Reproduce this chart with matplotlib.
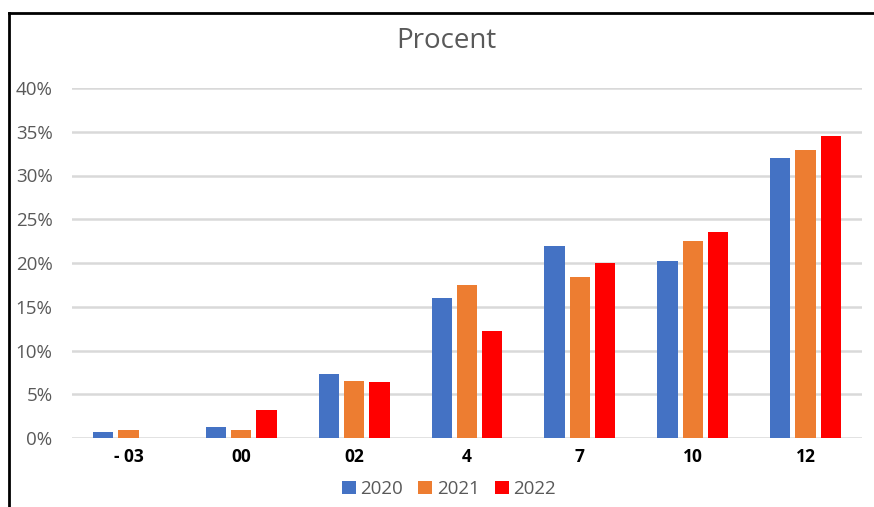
import matplotlib
matplotlib.use("Agg")
import matplotlib.pyplot as plt
from matplotlib.lines import Line2D
from matplotlib.ticker import PercentFormatter
import numpy as np

plt.rcParams['font.family'] = ['Open Sans', 'DejaVu Sans']

categories = ['- 03', '00', '02', '4', '7', '10', '12']
series_names = ['2020', '2021', '2022']
v2020 = [0.7, 1.3, 7.3, 16.0, 22.0, 20.2, 32.0]
v2021 = [0.9, 0.9, 6.5, 17.5, 18.4, 22.5, 32.9]
v2022 = [0.0, 3.2, 6.4, 12.2, 20.0, 23.6, 34.5]
colors = ['#4472C4', '#ED7D31', '#FF0000']
yticks = [0, 5, 10, 15, 20, 25, 30, 35, 40]

fig = plt.figure(figsize=(8.74, 5.07), dpi=100)
ax = fig.add_axes([72/874, 1-438/507, (862-72)/874, (438-88)/507])

x = np.arange(len(categories))
step = 0.224
width = 0.18
for i, (vals, name, c) in enumerate(zip([v2020, v2021, v2022], series_names, colors)):
    ax.bar(x + (i-1)*step, vals, width=width, color=c, label=name, zorder=3)

ax.set_xlim(-0.5, len(categories)-0.5)
ax.set_ylim(0, 40)
ax.set_yticks(yticks)
ax.yaxis.set_major_formatter(PercentFormatter(decimals=0))
ax.set_xticks(x)
ax.set_xticklabels(categories, fontweight='bold', fontsize=12.5, color='black')
ax.tick_params(axis='y', length=0, pad=14, labelsize=13.5, labelcolor='#595959')
ax.tick_params(axis='x', length=0, pad=7)
ax.grid(axis='y', color='#d9d9d9', linewidth=1.8, zorder=0)
for s in ax.spines.values():
    s.set_visible(False)

fig.text(446/874, 1-41/507, 'Procent', ha='center', va='center', fontsize=20, color='#595959')

leg = fig.legend(loc='center', bbox_to_anchor=(449/874, 1-489/507), ncol=3, frameon=False,
                 fontsize=13.5, handlelength=0.75, handleheight=0.75, handletextpad=0.25,
                 columnspacing=0.8)
for t in leg.get_texts():
    t.set_color('#595959')

fig.add_artist(Line2D([9/874, 9/874], [0, 1-13/507], color='black', linewidth=2, transform=fig.transFigure))
fig.add_artist(Line2D([9/874, 1], [1-13/507, 1-13/507], color='black', linewidth=2, transform=fig.transFigure))

fig.savefig('out.png', dpi=100)
